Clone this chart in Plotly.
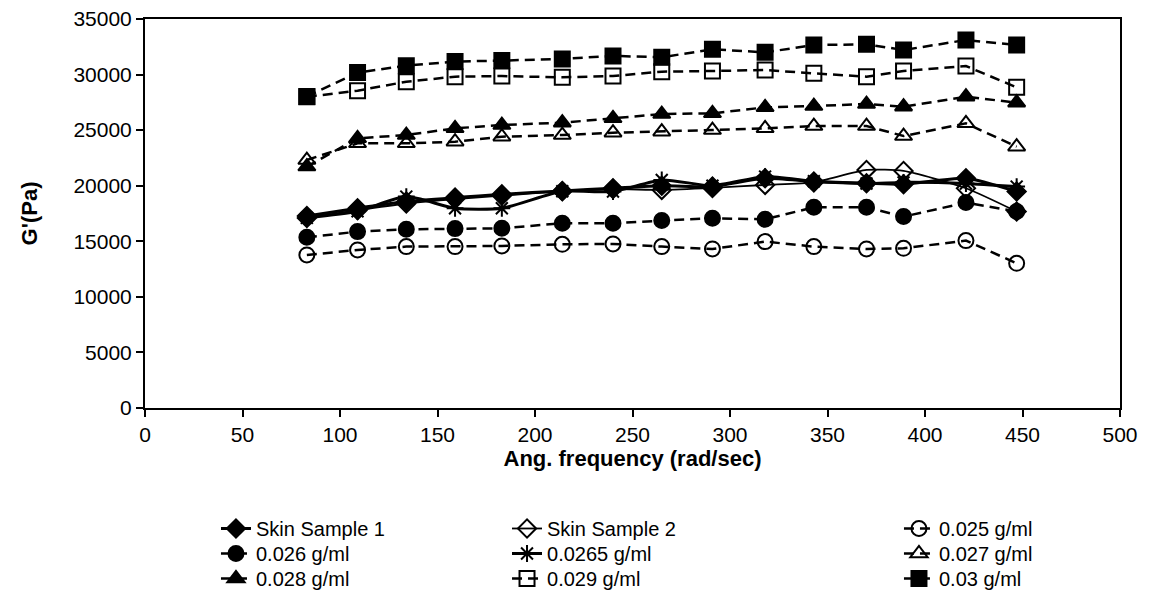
import plotly.graph_objects as go

freq = [83, 109, 134, 159, 183, 214, 240, 265, 291, 318, 343, 370, 389, 421, 447]

skin1 = [17280, 17970, 18570, 18930, 19230, 19530, 19770, 20000, 19920, 20670, 20370, 20220, 20130, 20670, 19470]
skin2 = [17100, 17800, 18400, 18800, 19100, 19500, 19700, 19620, 19800, 20070, 20300, 21420, 21330, 19770, 17670]
c0250 = [13770, 14220, 14520, 14520, 14580, 14730, 14760, 14520, 14310, 14970, 14520, 14310, 14370, 15060, 13020]
c0260 = [15360, 15870, 16080, 16140, 16170, 16620, 16620, 16860, 17070, 16980, 18060, 18060, 17220, 18480, 17670]
c0265 = [17100, 17700, 19020, 17970, 17970, 19500, 19470, 20520, 20000, 20820, 20400, 20200, 20300, 20200, 19920]
c0270 = [22310, 23810, 23810, 23960, 24410, 24560, 24770, 24860, 25010, 25160, 25370, 25370, 24470, 25610, 23510]
c0280 = [21720, 24260, 24560, 25160, 25460, 25670, 26060, 26450, 26510, 27050, 27170, 27350, 27110, 28010, 27470]
c0290 = [28000, 28550, 29360, 29810, 29870, 29750, 29870, 30260, 30320, 30410, 30110, 29810, 30320, 30770, 28850]
c0300 = [28020, 30180, 30800, 31170, 31260, 31410, 31680, 31560, 32270, 32000, 32660, 32720, 32210, 33110, 32660]

names = ["Skin Sample 1", "Skin Sample 2", "0.025 g/ml", "0.026 g/ml", "0.0265 g/ml",
         "0.027 g/ml", "0.028 g/ml", "0.029 g/ml", "0.03 g/ml"]
series = [skin1, skin2, c0250, c0260, c0265, c0270, c0280, c0290, c0300]
symbols = ["diamond", "diamond-open", "circle-open", "circle", "asterisk-open",
           "triangle-up-open", "triangle-up", "square-open", "square"]
sizes = [14, 14, 15, 15, 14, 15, 15, 15, 15]
dashes = ["solid", "solid", "10px,6px", "10px,6px", "solid", "10px,6px", "10px,6px", "10px,6px", "10px,6px"]
widths = [3, 1.8, 2.5, 2.5, 3, 2.5, 2.5, 2.5, 2.5]
shapes = ["spline", "spline", "linear", "linear", "spline", "linear", "linear", "linear", "linear"]

font = dict(family="Liberation Sans, Arial, sans-serif", size=20, color="black")
tick_font = dict(family="Liberation Sans, Arial, sans-serif", size=21, color="black")
title_font = dict(family="Liberation Sans, Arial, sans-serif", size=22, color="black")

# legend grid: 3 columns x 3 rows, one legend per entry (paper coordinates)
col_x = [0.0728, 0.3713, 0.7733]
row_y = [-0.2596, -0.3239, -0.3882]

fig = go.Figure()
layout_legends = {}
for i, (nm, ys, sym, sz, ds, w, sh) in enumerate(zip(names, series, symbols, sizes, dashes, widths, shapes)):
    key = "legend" if i == 0 else f"legend{i + 1}"
    fig.add_trace(go.Scatter(
        x=freq, y=ys, name=nm, mode="lines+markers",
        line=dict(color="black", width=w, dash=ds, shape=sh, smoothing=0.6),
        marker=dict(symbol=sym, size=sz, color="black", line=dict(color="black", width=2)),
        legend=key,
    ))
    layout_legends[key] = dict(
        font=font, bgcolor="rgba(0,0,0,0)",
        x=col_x[i % 3], y=row_y[i // 3], xanchor="left", yanchor="top",
    )

fig.update_layout(
    width=1145, height=593,
    margin=dict(l=137, r=33, t=11, b=193, autoexpand=False),
    paper_bgcolor="white", plot_bgcolor="white",
    font=font,
    showlegend=True,
    xaxis=dict(
        range=[0, 500], dtick=50, tick0=0, automargin=False,
        showgrid=False, zeroline=False,
        showline=True, linecolor="black", linewidth=2, mirror=True,
        ticks="outside", ticklen=7, tickwidth=2, tickcolor="black",
        title=dict(text="<b>Ang. frequency (rad/sec)</b>", font=title_font, standoff=4),
        tickfont=tick_font,
    ),
    yaxis=dict(
        range=[0, 35000], dtick=5000, tick0=0, tickformat="d", automargin=False,
        ticklabeloverflow="allow",
        showgrid=False, zeroline=False,
        showline=True, linecolor="black", linewidth=2, mirror=True,
        ticks="outside", ticklen=7, tickwidth=2, tickcolor="black",
        title=dict(text="<b>G'(Pa)</b>", font=title_font, standoff=30),
        tickfont=tick_font,
    ),
    **layout_legends,
)

fig.write_html("out.html")
